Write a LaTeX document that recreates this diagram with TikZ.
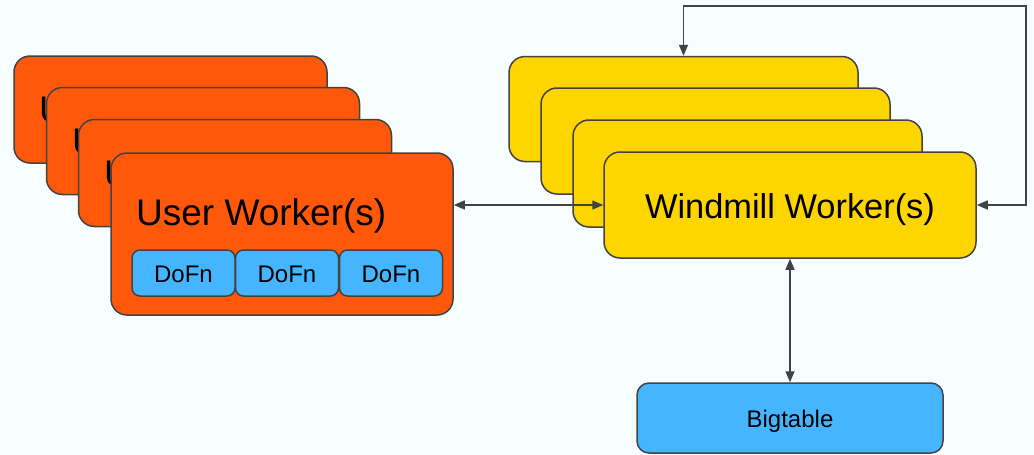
\documentclass[tikz,border=0pt]{standalone}
\usepackage{fontspec}
\setmainfont{Liberation Sans}
\usepackage{xcolor}
\definecolor{ColBg}{RGB}{247,254,255}
\definecolor{ColUser}{RGB}{255,88,11}
\definecolor{ColMill}{RGB}{255,213,0}
\definecolor{ColBlue}{RGB}{70,181,255}
\definecolor{ColLine}{RGB}{67,67,67}
\usepackage{tikz}
\usetikzlibrary{arrows.meta}
\tikzstyle{Box}=[draw=ColLine,line width=1.5pt,inner sep=0pt]
\tikzstyle{UserBox}=[Box,rounded corners=16pt,fill=ColUser,
minimum width=313pt,minimum height=107pt]
\tikzstyle{MillBox}=[Box,rounded corners=16pt,fill=ColMill,
minimum width=349pt,minimum height=105pt]
\tikzstyle{BlueBox}=[Box,fill=ColBlue,text height=19pt,text depth=0pt,
font=\fontsize{24}{28}\selectfont]
\tikzstyle{Label}=[inner sep=0pt,anchor=base west,
font=\fontsize{37}{43}\selectfont]
\tikzstyle{Edge}=[draw=ColLine,line width=1.5pt,
{Triangle[length=11pt,width=9pt]}-{Triangle[length=11pt,width=9pt]}]

\begin{document}
\begin{tikzpicture}[x=1pt,y=-1pt]
        \fill[ColBg](0,0)rectangle(1034,455);
        \useasboundingbox(0,0)rectangle(1034,455);
        % user workers
        \node[UserBox](u1)at(170.5,109.5){};
        \node[Label](l1)at(39,122){User Worker(s)};
        \node[UserBox](u2)at(203,141){};
        \node[Label](l2)at(72,154){User Worker(s)};
        \node[UserBox](u3)at(235,173){};
        \node[Label](l3)at(104,186){User Worker(s)};
        \node[UserBox,minimum width=342pt,minimum height=162pt](u4)
            at(282,234){};
        \node[Label](l4)at(136,225){User Worker(s)};
        \node[BlueBox,rounded corners=8pt,minimum width=103pt,
            minimum height=46pt](d1)at(183.5,273){DoFn};
        \node[BlueBox,rounded corners=8pt,minimum width=103pt,
            minimum height=46pt](d2)at(287,273){DoFn};
        \node[BlueBox,rounded corners=8pt,minimum width=103pt,
            minimum height=46pt](d3)at(391,273){DoFn};
        % windmill workers
        \node[MillBox](w1)at(683.5,109){};
        \node[MillBox,minimum height=106pt](w2)at(715.5,141){};
        \node[MillBox,minimum height=107pt](w3)at(747.5,173.5){};
        \node[MillBox,minimum width=372pt,minimum height=106pt,
            text height=26pt,text depth=0pt,
            font=\fontsize{34.4}{40}\selectfont](w4)
            at(790,205){Windmill Worker(s)};
        % storage
        \node[BlueBox,rounded corners=12pt,minimum width=306pt,
            minimum height=70pt](bt)at(790,418){Bigtable};
        \coordinate(c)at(1026,6);
        \draw[Edge](w4.west)--(w4.west-|u4.east);
        \draw[Edge](w4.south)--(bt.north);
        \draw[Edge](w4.east)-|(c)-|(w1.north);
    \end{tikzpicture}
\end{document}
